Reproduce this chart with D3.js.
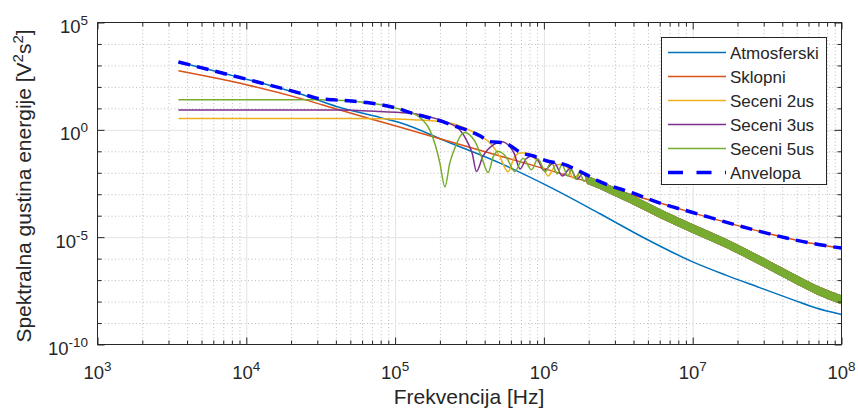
<!DOCTYPE html>
<html>
<head>
<meta charset="utf-8">
<script src="https://cdn.jsdelivr.net/npm/d3@7/dist/d3.min.js"></script>
<style>
body { margin: 0; background: #fff; }
text { font-family: "Liberation Sans", Arial, sans-serif; fill: #262626; }
</style>
</head>
<body>
<div id="chart"></div>
<script>
// values: [frequency Hz, energy V^2 s^2]
const atmosferski = [[3.5e3, 1.45e3], [1e4, 229], [2.4e4, 42.7], [4.04e4, 12.3], [7.89e4, 3.8], [1.07e5, 2.19],
  [2.29e5, 0.263], [5.07e5, 0.0282], [1.1e6, 2.14e-3], [2.38e6, 1.23e-4], [4.76e6, 8.91e-6], [1e7, 7.08e-7],
  [1.69e7, 1.66e-7], [2.82e7, 4.47e-8], [4.73e7, 1.2e-8], [6.76e7, 5.01e-9], [1e8, 2.51e-9]];

const sklopni = [[3.5e3, 562], [1e4, 126], [2.4e4, 26.9], [4.04e4, 9.33], [1.07e5, 1.35], [3.16e5, 0.155],
  [1.1e6, 0.0129], [3.16e6, 1.45e-3], [6.03e6, 3.89e-4], [1e7, 1.35e-4], [2.82e7, 1.86e-5], [4.27e7, 9.12e-6],
  [6.12e7, 5.37e-6], [1e8, 3.09e-6]];

const seceni2 = [[3.5e3, 3.39], [7.94e4, 3.31], [1.32e5, 2.95], [2.21e5, 2.24], [2.86e5, 1.32], [3.72e5, 0.525],
  [4.37e5, 0.24], [5.01e5, 0.0631], [5.75e5, 0.0112], [6.31e5, 0.0501], [6.92e5, 0.0832], [7.59e5, 0.0832],
  [8.51e5, 0.0525], [9.55e5, 0.0251], [1.07e6, 7.08e-3], [1.2e6, 0.0224], [1.32e6, 0.0251], [1.45e6, 0.0166],
  [1.58e6, 5.62e-3], [1.78e6, 0.0105], [2.09e6, 3.55e-3]];

const seceni3 = [[3.5e3, 8.32], [4.0e4, 8.32], [7.89e4, 7.08], [1.32e5, 5.75], [1.7e5, 3.98], [2.21e5, 2.29],
  [2.72e5, 1.0], [3.09e5, 0.24], [3.3e5, 0.0794], [3.52e5, 0.0115], [3.89e5, 0.0575], [4.57e5, 0.2],
  [5.19e5, 0.275], [5.89e5, 0.166], [6.31e5, 0.0794], [6.92e5, 0.0151], [7.59e5, 0.0447], [8.32e5, 0.0603],
  [9.12e5, 0.0398], [1.0e6, 0.0126], [1.17e6, 0.0302], [1.33e6, 7.08e-3], [1.5e6, 0.0158], [1.67e6, 5.01e-3],
  [1.82e6, 8.91e-3], [2.0e6, 3.55e-3]];

const seceni5 = [[3.5e3, 25.1], [3.16e4, 25.1], [6.46e4, 18.6], [1.07e5, 9.33], [1.32e5, 6.03], [1.51e5, 3.16],
  [1.71e5, 1.0], [1.86e5, 0.2], [2.0e5, 0.0282], [2.16e5, 2.19e-3], [2.33e5, 0.0282], [2.57e5, 0.2],
  [2.75e5, 0.525], [2.95e5, 0.759], [3.16e5, 0.603], [3.44e5, 0.288], [3.8e5, 0.0575], [4.22e5, 0.0102],
  [4.57e5, 0.0562], [4.9e5, 0.1], [5.25e5, 0.0832], [5.62e5, 0.0501], [6.38e5, 0.0115], [7.24e5, 0.0479],
  [8.26e5, 0.0138], [9.12e5, 0.0447], [1.02e6, 0.0112], [1.12e6, 0.0316], [1.23e6, 8.91e-3], [1.32e6, 0.024],
  [1.45e6, 7.08e-3], [1.53e6, 0.0141], [1.64e6, 5.01e-3], [1.74e6, 0.01], [1.86e6, 3.98e-3], [1.95e6, 7.08e-3]];

// dense oscillation of the cut spectra: [frequency, upper edge, lower edge]
const secenBand = [[1.95e6, 6.92e-3, 3.16e-3], [2.38e6, 3.98e-3, 1.82e-3], [2.92e6, 2.14e-3, 9.33e-4],
  [3.78e6, 9.77e-4, 4.07e-4], [6.03e6, 1.95e-4, 8.13e-5], [1e7, 3.89e-5, 1.62e-5], [1.69e7, 7.76e-6, 3.24e-6],
  [2.82e7, 1.29e-6, 5.37e-7], [4.73e7, 1.95e-7, 8.13e-8], [6.76e7, 5.5e-8, 2.29e-8], [1e8, 1.86e-8, 7.76e-9]];

const anvelopa = [[3.5e3, 1.45e3], [1e4, 229], [2.29e4, 51.3], [3.09e4, 28.2], [3.83e4, 25.1], [6.46e4, 18.6],
  [1.07e5, 9.33], [1.26e5, 6.31], [1.62e5, 3.98], [2.09e5, 2.4], [2.51e5, 1.51], [3.02e5, 1.0], [3.72e5, 0.525],
  [4.37e5, 0.282], [5.01e5, 0.263], [5.89e5, 0.191], [6.92e5, 0.0891], [8.51e5, 0.0603], [1.05e6, 0.0355],
  [1.35e6, 0.0251], [1.82e6, 0.01], [2.38e6, 3.89e-3], [3.98e6, 1.12e-3], [6.03e6, 3.89e-4], [1e7, 1.41e-4],
  [2.82e7, 1.86e-5], [4.27e7, 9.12e-6], [6.12e7, 5.37e-6], [1e8, 3.09e-6]];

const legendNames = ["Atmosferski", "Sklopni", "Seceni 2us", "Seceni 3us", "Seceni 5us", "Anvelopa"];
const colors = ["#0072BD", "#D95319", "#EDB120", "#7E2F8E", "#77AC30", "#0000FF"];

const xTicks = [1e3, 1e4, 1e5, 1e6, 1e7, 1e8];
const xTickExp = ["3", "4", "5", "6", "7", "8"];
const yTicks = [1e-10, 1e-5, 1e0, 1e5];
const yTickExp = ["-10", "-5", "0", "5"];

const margin = {left: 97, top: 22, right: 17, bottom: 68};
const chartWidth = 744, chartHeight = 322;

const svg = d3.select("#chart").append("svg")
  .attr("width", 858)
  .attr("height", 412);
const g = svg.append("g")
  .attr("transform", `translate(${margin.left + 0.5}, ${margin.top + 0.5})`);

const x = d3.scaleLog().domain([1e3, 1e8]).range([0, chartWidth]);
const y = d3.scaleLog().domain([1e-10, 1e5]).range([chartHeight, 0]);

// minor / major tick positions
const minorX = [];
for (let e = 3; e < 8; e++) for (let m = 2; m <= 9; m++) minorX.push(m * Math.pow(10, e));
const minorY = [];
for (let e = -9; e < 5; e++) if (e % 5 !== 0) minorY.push(Math.pow(10, e));

function grid(axis, cls) {
  const s = g.append("g").attr("class", cls).call(axis);
  s.select(".domain").remove();
  return s;
}

// dotted minor grid
grid(d3.axisBottom(x).tickValues(minorX).tickSize(chartHeight).tickFormat(""), "gminor")
  .selectAll("line").attr("stroke", "#bdbdbd").attr("stroke-dasharray", "1,2.5");
grid(d3.axisRight(y).tickValues(minorY).tickSize(chartWidth).tickFormat(""), "gminor")
  .selectAll("line").attr("stroke", "#bdbdbd").attr("stroke-dasharray", "1,2.5");
// solid major grid
grid(d3.axisBottom(x).tickValues(xTicks.slice(1, -1)).tickSize(chartHeight).tickFormat(""), "gmajor")
  .selectAll("line").attr("stroke", "#e3e3e3");
grid(d3.axisRight(y).tickValues(yTicks.slice(1, -1)).tickSize(chartWidth).tickFormat(""), "gmajor")
  .selectAll("line").attr("stroke", "#e3e3e3");

// curves
const smooth = d3.line().x(d => x(d[0])).y(d => y(d[1])).curve(d3.curveMonotoneX);
const band = d3.area().x(d => x(d[0])).y0(d => y(d[2])).y1(d => y(d[1])).curve(d3.curveMonotoneX);

g.append("path").attr("d", smooth(atmosferski)).attr("fill", "none")
  .attr("stroke", colors[0]).attr("stroke-width", 1.5);
g.append("path").attr("d", smooth(sklopni)).attr("fill", "none")
  .attr("stroke", colors[1]).attr("stroke-width", 1.5);

[seceni2, seceni3, seceni5].forEach((s, i) => {
  g.append("path").attr("d", smooth(s)).attr("fill", "none")
    .attr("stroke", colors[i + 2]).attr("stroke-width", 1.5).attr("stroke-linejoin", "round");
  g.append("path").attr("d", band(secenBand))
    .attr("fill", colors[i + 2]).attr("stroke", colors[i + 2]).attr("stroke-width", 1);
});

g.append("path").attr("d", smooth(anvelopa)).attr("fill", "none")
  .attr("stroke", colors[5]).attr("stroke-width", 3.5).attr("stroke-dasharray", "12,7");

// axes: box with inward ticks on all sides
function ticks(axis, tx, ty) {
  const s = g.append("g").attr("transform", `translate(${tx}, ${ty})`).call(axis);
  s.select(".domain").remove();
  s.selectAll("line").attr("stroke", "#262626");
}
ticks(d3.axisBottom(x).tickValues(xTicks).tickSize(-7).tickFormat(""), 0, chartHeight);
ticks(d3.axisBottom(x).tickValues(minorX).tickSize(-4).tickFormat(""), 0, chartHeight);
ticks(d3.axisTop(x).tickValues(xTicks).tickSize(-7).tickFormat(""), 0, 0);
ticks(d3.axisTop(x).tickValues(minorX).tickSize(-4).tickFormat(""), 0, 0);
ticks(d3.axisLeft(y).tickValues(yTicks).tickSize(-7).tickFormat(""), 0, 0);
ticks(d3.axisLeft(y).tickValues(minorY).tickSize(-4).tickFormat(""), 0, 0);
ticks(d3.axisRight(y).tickValues(yTicks).tickSize(-7).tickFormat(""), chartWidth, 0);
ticks(d3.axisRight(y).tickValues(minorY).tickSize(-4).tickFormat(""), chartWidth, 0);

g.append("rect").attr("width", chartWidth).attr("height", chartHeight)
  .attr("fill", "none").attr("stroke", "#262626").attr("stroke-width", 1);

// tick labels 10^n
const xl = g.append("g").selectAll("text").data(xTicks).enter().append("text")
  .attr("x", d => x(d)).attr("y", chartHeight + 34.5)
  .attr("text-anchor", "middle").style("font-size", "18.5px");
xl.append("tspan").text("10");
xl.append("tspan").attr("dy", -8).style("font-size", "13.5px").text((d, i) => xTickExp[i]);

const yl = g.append("g").selectAll("text").data(yTicks).enter().append("text")
  .attr("x", -9.5).attr("y", d => y(d) + 10.5)
  .attr("text-anchor", "end").style("font-size", "18.5px");
yl.append("tspan").text("10");
yl.append("tspan").attr("dy", -8).style("font-size", "13.5px").text((d, i) => yTickExp[i]);

// axis titles
svg.append("text")
  .attr("x", margin.left + chartWidth / 2).attr("y", 404)
  .attr("text-anchor", "middle").style("font-size", "21px")
  .text("Frekvencija [Hz]");

const yt = svg.append("text")
  .attr("transform", `translate(31, 186) rotate(-90)`)
  .attr("text-anchor", "middle").style("font-size", "21px");
yt.append("tspan").text("Spektralna gustina energije [V");
yt.append("tspan").attr("dy", -8).style("font-size", "15px").text("2");
yt.append("tspan").attr("dy", 8).text("s");
yt.append("tspan").attr("dy", -8).style("font-size", "15px").text("2");
yt.append("tspan").attr("dy", 8).text("]");

// legend
const lg = svg.append("g");
lg.append("rect").attr("x", 661.5).attr("y", 37.5).attr("width", 165).attr("height", 147)
  .attr("fill", "#fff").attr("stroke", "#262626").attr("stroke-width", 1);
legendNames.forEach((name, i) => {
  const ly = 52.5 + i * 24;
  lg.append("line").attr("x1", 668).attr("x2", 726).attr("y1", ly).attr("y2", ly)
    .attr("stroke", colors[i]).attr("stroke-width", i === 5 ? 3.5 : 1.5)
    .attr("stroke-dasharray", i === 5 ? "15,13.5" : null);
  lg.append("text").attr("x", 730).attr("y", ly).attr("dy", "0.36em")
    .style("font-size", "17px").text(name);
});
</script>
</body>
</html>
